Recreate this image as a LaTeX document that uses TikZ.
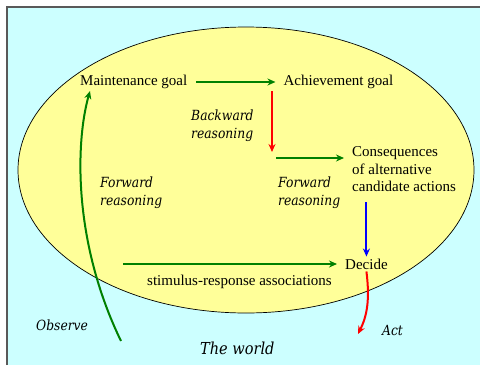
\documentclass[tikz,border=0pt]{standalone}
\usepackage{fontspec}
\setmainfont{Liberation Serif}
\newfontfamily\dvserif{DejaVu Serif}[FakeStretch=0.88]
\usetikzlibrary{positioning, arrows.meta}
\definecolor{worldcyan}{HTML}{CCFFFF}
\definecolor{mindyellow}{HTML}{FFFF99}
\definecolor{arrowgreen}{HTML}{008000}
\tikzset{Label/.style={%
    font=\fontsize{15}{17.5}\selectfont,%
    text=black,%
    inner sep=2pt,%
    anchor=west,%
    align=left,%
}}
\tikzset{Reason/.style={%
    font=\dvserif\itshape\fontsize{14}{18}\selectfont,%
    text=black,%
    inner sep=2pt,%
    anchor=west,%
    align=left,%
}}
\tikzset{Flow/.style={%
    -{Stealth[length=8pt,width=7pt]},%
    line width=2pt,%
}}

\begin{document}
\begin{tikzpicture}[x=1pt, y=-1pt]
    \useasboundingbox (0,0) rectangle (480,365);
    \fill[worldcyan] (7,7) rectangle (480,365);
    \draw[black!65, line width=1.5pt] (7,365) -- (7,7) -- (480,7);
    \draw[black, line width=0.7pt, fill=mindyellow] (246,170) ellipse [x radius=228, y radius=143];

    \node[Label] (maint) at (78,82) {Maintenance goal};
    \node[Label, right=92pt of maint] (achieve) {Achievement goal};
    \node[Label] (cons) at (350,169.5) {Consequences\\of alternative\\candidate actions};
    \node[Label] (decide) at (343,264) {Decide};
    \node[Label] (stim) at (145,282) {stimulus-response associations};
    \node[Reason] (backward) at (189,126) {Backward\\reasoning};
    \node[Reason] (fwdleft) at (98,192.5) {Forward\\reasoning};
    \node[Reason] (fwdright) at (276,192.5) {Forward\\reasoning};
    \node[Reason] (observe) at (34,325) {Observe};
    \node[Reason] (act) at (380,330) {Act};
    \node[Reason, font=\dvserif\itshape\fontsize{16.5}{19}\selectfont] (world) at (198,348) {The world};

    \coordinate (bk) at (272,152);
    \coordinate (obs) at (121,341);
    \coordinate (sr) at (123,264);
    \coordinate (out) at (358,334);

    \draw[Flow, draw=arrowgreen, shorten <=7pt, shorten >=6pt] (maint) -- (achieve);
    \draw[Flow, draw=red] (bk |- achieve.south) -- (bk);
    \draw[Flow, draw=arrowgreen] ([shift={(4,6)}]bk) -- ([xshift=-6pt]cons.west |- {(0,158)});
    \draw[Flow, draw=blue] ([yshift=-8pt]decide.north |- cons.south) -- (decide.north);
    \draw[Flow, draw=arrowgreen] (sr) -- ([xshift=-6pt]decide.west);
    \draw[Flow, draw=arrowgreen] (obs) .. controls (72,240) and (76,140) .. ([xshift=12pt]maint.south west);
    \draw[Flow, draw=red] (decide.south) .. controls (370,300) and (367,316) .. (out);
\end{tikzpicture}
\end{document}
